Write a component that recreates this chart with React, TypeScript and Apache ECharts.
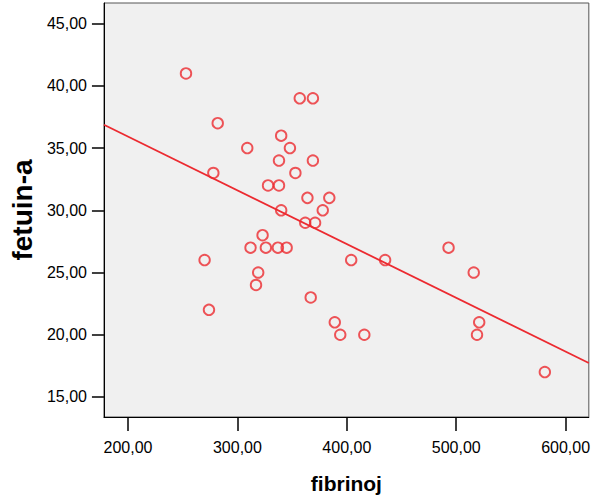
import React, { useEffect, useRef } from "react";
import * as echarts from "echarts";

// fibrinoj (x) and fetuin-a (y) values
const fibrinoj = [
  253, 282, 278, 309, 357, 369, 340, 348, 338, 369, 353, 328, 338, 364, 384,
  378, 340, 362, 371, 323, 312, 326, 337, 345, 493, 270, 404, 435, 319, 516,
  317, 274, 367, 389, 394, 416, 521, 519, 581,
];
const fetuinA = [
  41, 37, 33, 35, 39, 39, 36, 35, 34, 34, 33, 32, 32, 31, 31,
  30, 30, 29, 29, 28, 27, 27, 27, 27, 27, 26, 26, 26, 25, 25,
  24, 22, 23, 21, 20, 20, 21, 20, 17,
];
// fit line end points (linear regression shown in the reference)
const fitX = [178, 621.2];
const fitY = [36.88, 17.73];

const xTicks = [200, 300, 400, 500, 600];
const yTicks = [15, 20, 25, 30, 35, 40, 45];

const RED = "#ec2a30";
const fmt = (v: number) => v.toFixed(2).replace(".", ",");

export default function App() {
  const ref = useRef<HTMLDivElement>(null);
  useEffect(() => {
    document.body.style.margin = "0";
    const chart = echarts.init(ref.current!, undefined, { renderer: "svg" });
    const font = "'Liberation Sans', Arial, Helvetica, sans-serif";
    chart.setOption({
      animation: false,
      backgroundColor: "#ffffff",
      textStyle: { fontFamily: font },
      grid: {
        left: 102,
        top: 3,
        right: 0,
        bottom: 87,
        show: true,
        backgroundColor: "#f0f0f0",
        borderColor: "#555",
        borderWidth: 1,
      },
      xAxis: {
        type: "value",
        min: 178,
        max: 621.2,
        name: "fibrinoj",
        nameLocation: "middle",
        nameGap: 56,
        nameTextStyle: { fontSize: 21, fontWeight: "bold", color: "#000", fontFamily: font },
        axisLine: { show: true, onZero: false, lineStyle: { color: "#000", width: 1 } },
        axisTick: { show: true, length: 14, customValues: xTicks, lineStyle: { color: "#000", width: 1.5 } },
        axisLabel: {
          customValues: xTicks,
          formatter: (v: number) => fmt(v),
          fontSize: 16,
          color: "#000",
          margin: 22,
          fontFamily: font,
        },
        splitLine: { show: false },
      },
      yAxis: {
        type: "value",
        min: 13.39,
        max: 46.66,
        name: "fetuin-a",
        nameLocation: "middle",
        nameGap: 66,
        nameRotate: 90,
        nameTextStyle: { fontSize: 28, fontWeight: "bold", color: "#000", fontFamily: font },
        axisLine: { show: true, onZero: false, lineStyle: { color: "#000", width: 1 } },
        axisTick: { show: true, length: 12, customValues: yTicks, lineStyle: { color: "#000", width: 1.5 } },
        axisLabel: {
          customValues: yTicks,
          formatter: (v: number) => fmt(v),
          fontSize: 16,
          color: "#000",
          margin: 17,
          fontFamily: font,
        },
        splitLine: { show: false },
      },
      series: [
        {
          type: "line",
          data: fitX.map((x, i) => [x, fitY[i]]),
          showSymbol: false,
          symbol: "none",
          lineStyle: { color: RED, width: 1.8 },
          silent: true,
          z: 2,
        },
        {
          type: "scatter",
          data: fibrinoj.map((x, i) => [x, fetuinA[i]]),
          symbol: "circle",
          symbolSize: 10.5,
          itemStyle: { color: "transparent", borderColor: RED, borderWidth: 1.9 },
          z: 3,
        },
      ],
    });
    return () => chart.dispose();
  }, []);
  return <div ref={ref} style={{ width: 593, height: 504 }} />;
}
